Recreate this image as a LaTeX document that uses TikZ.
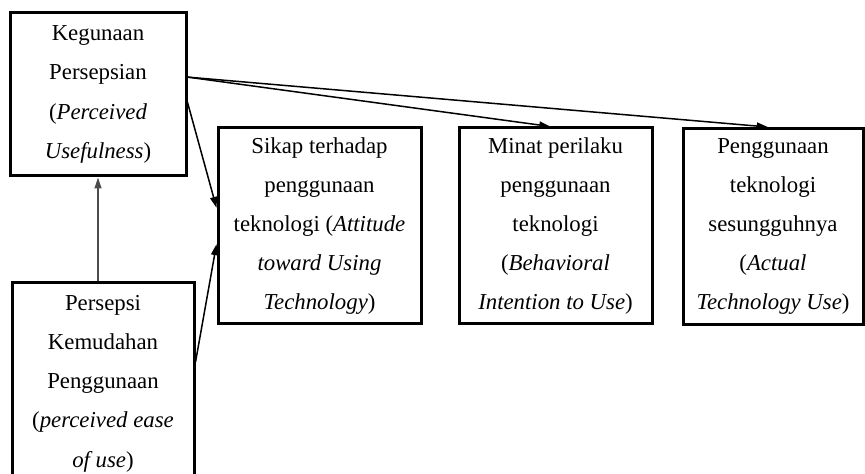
\documentclass[tikz,border=0pt]{standalone}
\usepackage{fontspec}
\setmainfont{Liberation Serif}
\usetikzlibrary{arrows.meta}

\begin{document}
\begin{tikzpicture}[x=0.5pt, y=-0.5pt,
    konstruk/.style={draw, line width=1.5pt, align=center, inner sep=0pt,
      font=\fontsize{11.4}{19.6}\selectfont},
    flow/.style={line width=0.75pt, -{Triangle[length=5.5pt,width=3.5pt]}}]

   \useasboundingbox (0,0) rectangle (865,474);
   \clip (0,0) rectangle (865,474);

   \node [konstruk, minimum width=88pt, minimum height=81.5pt]
      (kp) at (98,94.5) {Kegunaan\\Persepsian\\(\textit{Perceived}\\\textit{Usefulness})};
   \node [konstruk, minimum width=91pt, minimum height=100.5pt]
      (pkp) at (103,383.5) {Persepsi\\Kemudahan\\Penggunaan\\(\textit{perceived ease}\\\textit{of use})};
   \node [konstruk, minimum width=101.5pt, minimum height=98pt]
      (sikap) at (319.5,226) {Sikap terhadap\\penggunaan\\teknologi (\textit{Attitude}\\\textit{toward Using}\\\textit{Technology})};
   \node [konstruk, minimum width=96.5pt, minimum height=98pt]
      (minat) at (555.5,226) {Minat perilaku\\penggunaan\\teknologi\\(\textit{Behavioral}\\\textit{Intention to Use})};
   \node [konstruk, minimum width=90pt, minimum height=98pt]
      (guna) at (773,226.5) {Penggunaan\\teknologi\\sesungguhnya\\(\textit{Actual}\\\textit{Technology Use})};

    \foreach \i/\j in {kp.11/minat.93, kp.11/guna.93.5, kp.-5/sikap.170, pkp.13/sikap.190}
        \draw [flow] (\i) -- (\j);
    \draw [flow, draw=black!70, line width=0.6pt] (pkp.north -| kp.south) -- (kp.south);

\end{tikzpicture}
\end{document}
